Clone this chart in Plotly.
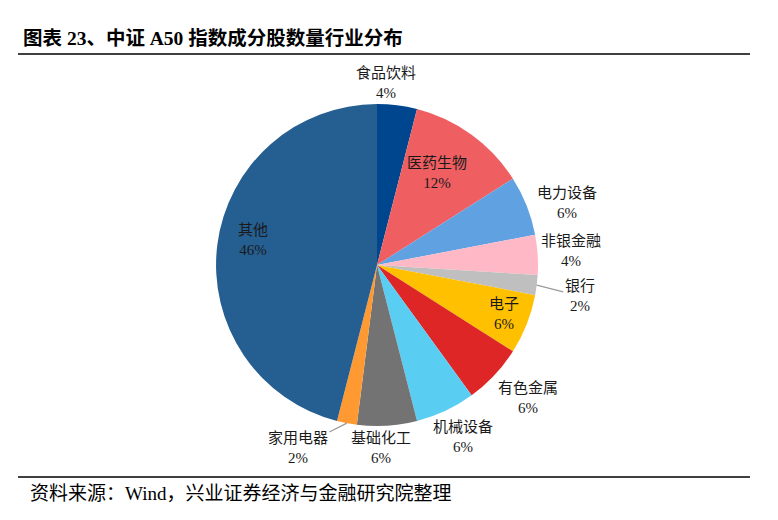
import math
import plotly.graph_objects as go

labels = ["食品饮料", "医药生物", "电力设备", "非银金融", "银行", "电子",
          "有色金属", "机械设备", "基础化工", "家用电器", "其他"]
counts = [2, 6, 3, 2, 1, 3, 3, 3, 3, 1, 23]
colors = ["#00468F", "#EF5F62", "#60A1E2", "#FFB9C6", "#BFBFBF", "#FFC000",
          "#DE2626", "#5ACDF3", "#737373", "#FF9A33", "#255E91"]

# label placement relative to the slice's outer edge point (pixels: right, down)
label_offsets = [(-11, -22), (-35, 38), (40, -3), (33, -4), (43, 11), (-23, -10),
                 (34, 23), (17, 26), (-6, 22), (-49, 25), (36, -5)]
leader = [False, False, False, False, True, False, False, False, False, True, False]

title_text = "<b>图表 23、中证 A50 指数成分股数量行业分布</b>"
source_text = "资料来源：Wind，兴业证券经济与金融研究院整理"

W, H = 778, 520
serif = "Liberation Serif, Times New Roman, Noto Sans CJK SC, serif"
dom_x = [0.2777, 0.6915]
dom_y = [0.1808, 0.80]

fig = go.Figure(go.Pie(
    labels=labels, values=counts, sort=False, direction="clockwise", rotation=0,
    marker=dict(colors=colors, line=dict(width=0)),
    textinfo="none",
    domain=dict(x=dom_x, y=dom_y),
    showlegend=False, hoverinfo="label+percent",
))

# geometry of the pie as Plotly draws it from the domain
cx = (dom_x[0] + dom_x[1]) / 2 * W
cy = (1 - (dom_y[0] + dom_y[1]) / 2) * H
R = min((dom_x[1] - dom_x[0]) * W, (dom_y[1] - dom_y[0]) * H) / 2

total = sum(counts)
annotations = []
cum = 0
for lab, v, (dx, dy), ld in zip(labels, counts, label_offsets, leader):
    mid = (cum + v / 2) / total * 2 * math.pi
    cum += v
    px = cx + R * math.sin(mid)
    py = cy - R * math.cos(mid)
    pct = round(v / total * 100)
    txt = f"{lab}<br>{pct}%"
    font = dict(family=serif, size=15, color="#1a1a1a")
    if ld:
        annotations.append(dict(
            text=txt, xref="paper", yref="paper", x=px / W, y=1 - py / H,
            showarrow=True, arrowhead=0, arrowwidth=1.2, arrowcolor="#9a9a9a",
            ax=dx, ay=dy, font=font, align="center", standoff=0))
    else:
        annotations.append(dict(
            text=txt, xref="paper", yref="paper", x=px / W, y=1 - py / H,
            showarrow=False, xanchor="center", yanchor="middle",
            xshift=dx, yshift=-dy, font=font, align="center"))

annotations += [
    dict(text=title_text, xref="paper", yref="paper", x=21 / W, y=1 - 38 / H,
         xanchor="left", yanchor="middle", showarrow=False,
         font=dict(family=serif, size=19.5, color="black")),
    dict(text=source_text, xref="paper", yref="paper", x=28 / W, y=1 - 493 / H,
         xanchor="left", yanchor="middle", showarrow=False,
         font=dict(family=serif, size=19, color="black")),
]

fig.update_layout(
    width=W, height=H, margin=dict(l=0, r=0, t=0, b=0),
    paper_bgcolor="white", plot_bgcolor="white",
    shapes=[
        dict(type="line", xref="paper", yref="paper", x0=18 / W, x1=750 / W,
             y0=1 - 54 / H, y1=1 - 54 / H, line=dict(color="black", width=1.3)),
        dict(type="line", xref="paper", yref="paper", x0=18 / W, x1=750 / W,
             y0=1 - 477 / H, y1=1 - 477 / H, line=dict(color="black", width=1.3)),
    ],
    annotations=annotations,
)

fig.write_html("out.html")
